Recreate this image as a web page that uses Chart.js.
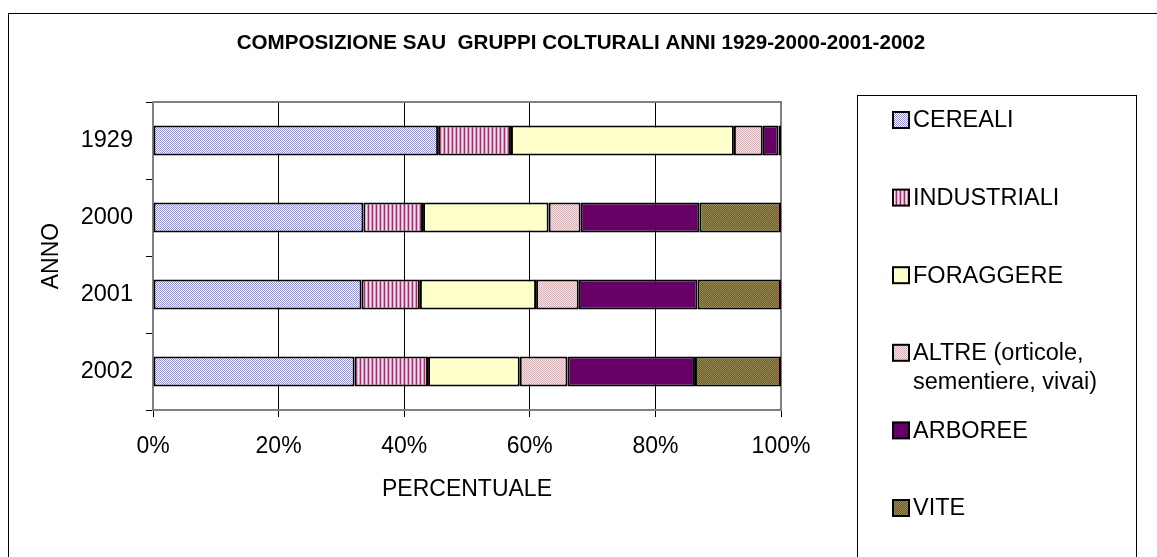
<!DOCTYPE html>
<html>
<head>
<meta charset="utf-8">
<script src="https://cdn.jsdelivr.net/npm/chart.js@4.4.1/dist/chart.umd.min.js"></script>
<style>
  body { margin: 0; background: #fff; }
  #wrap { width: 1157px; height: 557px; }
</style>
</head>
<body>
<div id="wrap"><canvas id="chart" width="1157" height="557"></canvas></div>
<script>
let years = ["1929", "2000", "2001", "2002"],
    seriesNames = ["CEREALI", "INDUSTRIALI", "FORAGGERE", "ALTRE (orticole, sementiere, vivai)", "ARBOREE", "VITE"],
    cereali = [45.4, 33.5, 33.2, 32.1],
    industriali = [11.6, 9.5, 9.3, 11.7],
    foraggere = [35.5, 20.0, 18.5, 14.6],
    altre = [4.6, 5.1, 6.8, 7.6],
    arboree = [2.5, 18.9, 18.9, 20.3],
    vite = [0.4, 13.0, 13.3, 13.7],
    xTicks = [0, 20, 40, 60, 80, 100],
    chartTitle = "COMPOSIZIONE SAU  GRUPPI COLTURALI ANNI 1929-2000-2001-2002"

const FONT = "'Liberation Sans', Arial, sans-serif"

// small tiles -> canvas patterns (excel style fills)
function tile(w, h, painter) {
    let c = document.createElement("canvas")
    c.width = w; c.height = h
    let g = c.getContext("2d")
    painter(g)
    return g.createPattern(c, "repeat")
}
function checker(a, b) {
    return tile(2, 2, g => {
        g.fillStyle = a; g.fillRect(0, 0, 2, 2)
        g.fillStyle = b; g.fillRect(1, 0, 1, 1); g.fillRect(0, 1, 1, 1)
    })
}
let fills = [
    checker("#8c8cff", "#ffffff"),
    tile(4, 1, g => {
        let cols = ["#993366", "#f0a8cc", "#ffe4f2", "#e090b8"]
        cols.forEach((c, i) => { g.fillStyle = c; g.fillRect(i, 0, 1, 1) })
    }),
    "#ffffcc",
    checker("#f2a4ae", "#e4eeee"),
    "#660066",
    checker("#d86c48", "#2c7a34")
]
let values = [cereali, industriali, foraggere, altre, arboree, vite]

let datasets = seriesNames.map((name, i) => ({
    label: name,
    data: values[i],
    backgroundColor: fills[i],
    borderColor: "#000",
    borderWidth: 2,
    borderSkipped: false,
    barPercentage: 0.39,
    categoryPercentage: 1.0
}))

function wrapText(ctx, text, maxW) {
    let words = text.split(" "), lines = [], cur = ""
    for (let w of words) {
        let t = cur ? cur + " " + w : w
        if (ctx.measureText(t).width > maxW && cur) { lines.push(cur); cur = w }
        else cur = t
    }
    if (cur) lines.push(cur)
    return lines
}

// frame of the plot area, drawn over the grid
let framePlugin = {
    id: "frame",
    beforeDatasetsDraw(chart) {
        let {ctx, chartArea: a} = chart
        ctx.save()
        ctx.strokeStyle = "#808080"
        ctx.lineWidth = 2
        ctx.strokeRect(a.left, a.top, a.right - a.left, a.bottom - a.top)
        ctx.restore()
    }
}

// outer border, title and excel-like legend box
let decoPlugin = {
    id: "deco",
    afterDraw(chart) {
        let ctx = chart.ctx
        ctx.save()
        ctx.strokeStyle = "#000"
        ctx.lineWidth = 1
        ctx.strokeRect(8.5, 13.5, 1200, 600)

        ctx.fillStyle = "#000"
        ctx.font = "bold 20.6px " + FONT
        ctx.textAlign = "center"
        ctx.textBaseline = "middle"
        ctx.fillText(chartTitle, 581, 43)

        ctx.strokeRect(857.5, 95.5, 279, 600)
        ctx.font = "23.5px " + FONT
        ctx.textAlign = "left"
        let y = 120
        chart.data.datasets.forEach(ds => {
            ctx.fillStyle = ds.backgroundColor
            ctx.fillRect(893, y - 8, 16, 16)
            ctx.lineWidth = 2
            ctx.strokeRect(893, y - 8, 16, 16)
            ctx.fillStyle = "#000"
            let lines = wrapText(ctx, ds.label, 200)
            lines.forEach((ln, k) => ctx.fillText(ln, 913, y + 1 + k * 29))
            y += 77.6
        })
        ctx.restore()
    }
}

Chart.defaults.font.family = FONT
Chart.defaults.color = "#000"

let myChart = new Chart(document.getElementById("chart"), {
    type: "bar",
    data: { labels: years, datasets: datasets },
    plugins: [framePlugin, decoPlugin],
    options: {
        indexAxis: "y",
        responsive: false,
        animation: false,
        layout: { padding: { left: 20, right: 376, top: 102, bottom: 0 } },
        plugins: {
            legend: { display: false },
            tooltip: { enabled: false }
        },
        scales: {
            x: {
                stacked: true,
                min: 0, max: 100,
                afterBuildTicks: s => { s.ticks = xTicks.map(v => ({value: v})) },
                afterFit: s => { s.height = 147 },
                ticks: { font: { size: 23 }, padding: 16, callback: v => v + "%" },
                grid: { color: "#000", lineWidth: 1, tickLength: 7, tickColor: "#000" },
                border: { color: "#808080", width: 2 },
                title: { display: true, text: "PERCENTUALE", font: { size: 23 }, padding: { top: 0, bottom: 54 } }
            },
            y: {
                stacked: true,
                afterFit: s => { s.width = 133 },
                ticks: { font: { size: 23.5 }, padding: 13 },
                grid: { drawOnChartArea: false, offset: true, tickLength: 7, color: "#000" },
                border: { color: "#808080", width: 2 },
                title: { display: true, text: "ANNO", font: { size: 23 }, padding: { top: 18, bottom: 0 } }
            }
        }
    }
})
</script>
</body>
</html>
